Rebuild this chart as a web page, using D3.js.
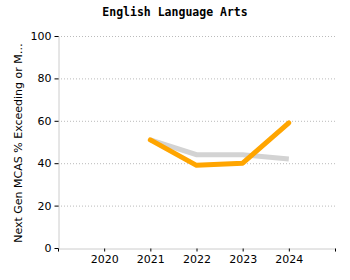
<!DOCTYPE html>
<html>
<head>
<meta charset="utf-8">
<script src="https://cdn.jsdelivr.net/npm/d3@7"></script>
<style>
  body { margin: 0; background: #fff; }
  .tick text { font-family: "DejaVu Sans", Verdana, sans-serif; font-size: 11px; fill: #000; }
</style>
</head>
<body>
<svg id="chart" width="350" height="280"></svg>
<script>
// Data
var YEARS = [2021, 2022, 2023, 2024];
var STATE_VALUES = [51, 44, 44, 42];
var SCHOOL_VALUES = [51, 39, 40, 59];
var X_TICKS = [2020, 2021, 2022, 2023, 2024];
var Y_TICKS = [0, 20, 40, 60, 80, 100];

var LEFT = 58, RIGHT = 335, TOP = 36, BOTTOM = 248;

var svg = d3.select("#chart");

var xScale = d3.scaleLinear().domain([2019, 2025]).range([LEFT, RIGHT]);
var yScale = d3.scaleLinear().domain([0, 100]).range([BOTTOM, TOP]);

// gridlines
svg.append("g")
    .selectAll("line")
    .data(Y_TICKS.slice(1))
    .enter()
    .append("line")
    .attr("x1", LEFT)
    .attr("x2", RIGHT)
    .attr("y1", d => yScale(d) + 0.5)
    .attr("y2", d => yScale(d) + 0.5)
    .attr("stroke", "#bbb")
    .attr("stroke-dasharray", "1,2");

// y axis
var yAxis = svg.append("g")
    .attr("transform", "translate(" + (LEFT + 0.5) + ",0)")
    .call(d3.axisLeft(yScale).tickValues(Y_TICKS).tickSize(4).tickSizeOuter(0).tickPadding(3));
yAxis.select(".domain").attr("stroke", "#ccc");
yAxis.selectAll(".tick line").attr("stroke", "#000");

// x axis
var xAxis = svg.append("g")
    .attr("transform", "translate(0," + (BOTTOM + 0.5) + ")")
    .call(d3.axisBottom(xScale).tickValues(X_TICKS).tickFormat(d3.format("d")).tickSize(3).tickSizeOuter(3).tickPadding(4));
xAxis.select(".domain").attr("stroke", "#ccc");
xAxis.selectAll(".tick line").attr("stroke", "#000");
// outer ticks at both ends in black
[2019, 2025].forEach(function (v) {
    xAxis.append("line")
        .attr("x1", xScale(v) + 0.5).attr("x2", xScale(v) + 0.5)
        .attr("y1", 0).attr("y2", 3)
        .attr("stroke", "#000");
});

// lines
var line = d3.line()
    .x((d, i) => xScale(YEARS[i]))
    .y(d => yScale(d));

svg.append("path")
    .attr("d", line(STATE_VALUES))
    .attr("fill", "none")
    .attr("stroke", "#d3d3d3")
    .attr("stroke-width", 5);

svg.append("path")
    .attr("d", line(SCHOOL_VALUES))
    .attr("fill", "none")
    .attr("stroke", "#ffa500")
    .attr("stroke-width", 5)
    .attr("stroke-linecap", "round")
    .attr("stroke-linejoin", "round");

// title
svg.append("text")
    .attr("x", 175)
    .attr("y", 16)
    .attr("text-anchor", "middle")
    .style("font-family", "'DejaVu Sans Mono', monospace")
    .style("font-weight", "bold")
    .style("font-size", "11.5px")
    .text("English Language Arts");

// y label
svg.append("text")
    .attr("transform", "translate(22," + 143 + ") rotate(-90)")
    .attr("text-anchor", "middle")
    .style("font-family", "'DejaVu Sans', Verdana, sans-serif")
    .style("font-size", "11px")
    .text("Next Gen MCAS % Exceeding or M…");
</script>
</body>
</html>
